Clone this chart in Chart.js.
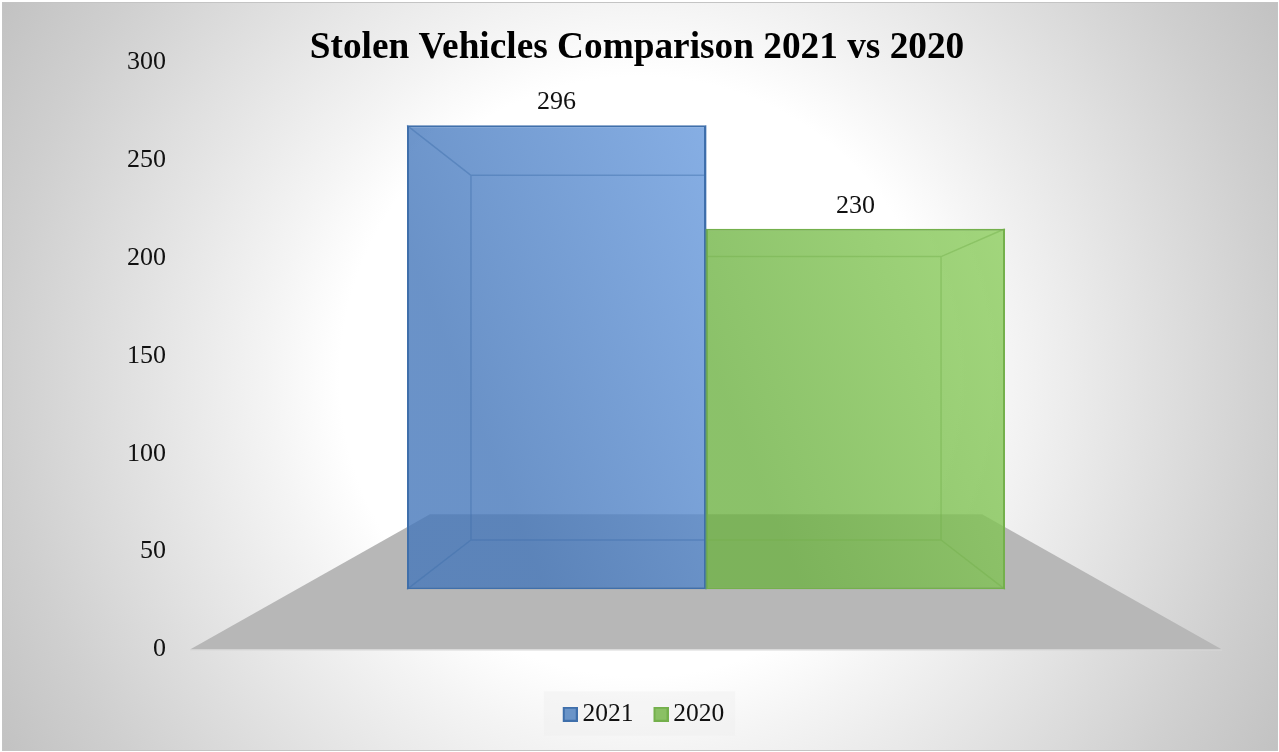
<!DOCTYPE html>
<html>
<head>
<meta charset="utf-8">
<title>Stolen Vehicles Comparison 2021 vs 2020</title>
<script src="https://cdn.jsdelivr.net/npm/chart.js@4/dist/chart.umd.min.js"></script>
<style>
  html, body { margin: 0; padding: 0; background: #fff; }
  .frame {
    position: absolute; left: 2px; top: 2px; width: 1274px; height: 747px;
    border: 1px solid #c4c4c4;
    background: radial-gradient(circle 740px at 50% 50%, #fff 300px, #f4f4f4 372px, #cfcfcf 636px, #c2c2c2 740px);
  }
  canvas { position: absolute; left: 0; top: 0; }
</style>
</head>
<body>
<div class="frame"></div>
<canvas id="stolenChart" width="1279" height="752"></canvas>
<script>
const chartTitle = "Stolen Vehicles Comparison 2021 vs 2020";
const categories = ["Stolen Vehicles"];
const years = ["2021", "2020"];
const stolen = [296, 230];

const serif = '"Liberation Serif", serif';
const lineColors = ["#3f6fab", "#74b04c"];
const lowColors = ["rgba(69,119,186,0.8)", "rgba(110,178,68,0.8)"];
const highColors = ["rgba(104,154,221,0.8)", "rgba(141,206,94,0.8)"];

// how far back the bars and the floor go, 1 is the front plane
const barDepth = 0.786;
const floorDepth = 0.535;
const vanishY = 0.505;

const project = (chart, x, y, k) => {
  const area = chart.chartArea;
  const vx = (area.left + area.right) / 2;
  const vy = area.top + area.height * vanishY;
  return [vx + (x - vx) * k, vy + (y - vy) * k];
};

const barFill = (i) => (ctx) => {
  const chart = ctx.chart;
  const area = chart.chartArea;
  if (!area) return highColors[i];
  const mid = (area.left + area.right) / 2;
  const barW = area.width * 0.5795 / 2;
  const top = chart.scales.depth.getPixelForValue(stolen[i]);
  // brightest in the top right corner, mostly running left to right
  const g = chart.ctx.createLinearGradient(
    mid + (i - 1) * barW, top + barW * 0.4,
    mid + i * barW, top
  );
  g.addColorStop(0, lowColors[i]);
  g.addColorStop(1, highColors[i]);
  return g;
};

// floor and the pale box behind the legend
const floorPlugin = {
  id: "floor",
  afterLayout(chart) {
    // the title sits a little left of the centre
    chart.titleBlock.left -= 2.5;
    chart.titleBlock.right -= 2.5;
  },
  beforeDatasetsDraw(chart) {
    const c = chart.ctx;
    const a = chart.chartArea;
    const backL = project(chart, a.left, a.bottom, floorDepth);
    const backR = project(chart, a.right, a.bottom, floorDepth);
    c.save();
    c.fillStyle = "#b7b7b7";
    c.beginPath();
    c.moveTo(a.left, a.bottom);
    c.lineTo(backL[0], backL[1]);
    c.lineTo(backR[0], backR[1]);
    c.lineTo(a.right, a.bottom);
    c.closePath();
    c.fill();
    c.strokeStyle = "#d8d8d8";
    c.lineWidth = 1;
    c.beginPath();
    c.moveTo(a.left, a.bottom + 0.5);
    c.lineTo(a.right, a.bottom + 0.5);
    c.stroke();
    c.restore();
  },
  beforeDraw(chart) {
    const boxes = chart.legend.legendHitBoxes;
    const first = boxes[0];
    const last = boxes[boxes.length - 1];
    const c = chart.ctx;
    c.save();
    c.fillStyle = "rgba(238,238,238,0.4)";
    c.fillRect(first.left - 11, first.top - 10, last.left + last.width - first.left + 22, 44);
    c.restore();
  }
};

// inner edges of the glass boxes and the value labels
const boxPlugin = {
  id: "boxes",
  afterDatasetsDraw(chart) {
    const c = chart.ctx;
    chart.data.datasets.forEach((ds, i) => {
      const bar = chart.getDatasetMeta(i).data[0];
      const l = bar.x - bar.width / 2;
      const r = bar.x + bar.width / 2;
      const corners = [[l, bar.y], [r, bar.y], [r, bar.base], [l, bar.base]];
      const back = corners.map((p) => project(chart, p[0], p[1], barDepth));
      c.save();
      c.strokeStyle = lineColors[i];
      c.globalAlpha = 0.45;
      c.lineWidth = 1.5;
      c.beginPath();
      back.forEach((p, j) => {
        c.moveTo(corners[j][0], corners[j][1]);
        c.lineTo(p[0], p[1]);
        const next = back[(j + 1) % 4];
        c.moveTo(p[0], p[1]);
        c.lineTo(next[0], next[1]);
      });
      c.stroke();
      c.restore();

      c.save();
      c.fillStyle = "#111";
      c.font = "26px " + serif;
      c.textAlign = "center";
      c.textBaseline = "middle";
      c.fillText(ds.data[0], bar.x, bar.y - 23);
      c.restore();
    });
  }
};

// swatch with empty space on its left, so the gap to the text is small
const swatch = (i) => {
  const cv = document.createElement("canvas");
  cv.width = 31;
  cv.height = 15;
  const c = cv.getContext("2d");
  c.fillStyle = ["#6a94c8", "#8ac064"][i];
  c.fillRect(16, 0, 15, 15);
  c.strokeStyle = lineColors[i];
  c.lineWidth = 2;
  c.strokeRect(17, 1, 13, 13);
  return cv;
};

new Chart(document.getElementById("stolenChart"), {
  type: "bar",
  data: {
    labels: categories,
    datasets: years.map((year, i) => ({
      label: year,
      data: [stolen[i]],
      yAxisID: "depth",
      backgroundColor: barFill(i),
      borderColor: lineColors[i],
      borderWidth: 2,
      borderSkipped: false,
      categoryPercentage: 0.5795,
      barPercentage: 1
    }))
  },
  plugins: [floorPlugin, boxPlugin],
  options: {
    responsive: false,
    animation: false,
    layout: { padding: { bottom: 15 } },
    plugins: {
      tooltip: { enabled: false },
      title: {
        display: true,
        text: chartTitle,
        color: "#000",
        font: { family: serif, size: 37.3, weight: "bold", lineHeight: 1 },
        padding: { top: 30, bottom: -5 }
      },
      legend: {
        position: "bottom",
        labels: {
          color: "#111",
          font: { family: serif, size: 25.5 },
          padding: 12,
          usePointStyle: true,
          pointStyleWidth: 15,
          boxHeight: 15,
          generateLabels: (chart) => chart.data.datasets.map((ds, i) => ({
            text: ds.label,
            fontColor: "#111",
            pointStyle: swatch(i),
            datasetIndex: i
          }))
        }
      }
    },
    scales: {
      x: {
        grid: { display: false },
        border: { display: false },
        ticks: { display: false },
        afterFit: (scale) => { scale.height = 40; }
      },
      y: {
        min: 0,
        max: 300,
        grid: { display: false, drawTicks: false },
        border: { display: false },
        ticks: {
          stepSize: 50,
          padding: 24,
          color: "#111",
          font: { family: serif, size: 26 }
        },
        afterFit: (scale) => { scale.width = 190; }
      },
      // front plane of the bars, smaller than the axis on the wall
      depth: {
        position: "right",
        min: -38.4,
        max: 336.2,
        grid: { display: false, drawTicks: false },
        border: { display: false },
        ticks: { display: false },
        afterFit: (scale) => { scale.width = 57; }
      }
    }
  }
});
</script>
</body>
</html>
